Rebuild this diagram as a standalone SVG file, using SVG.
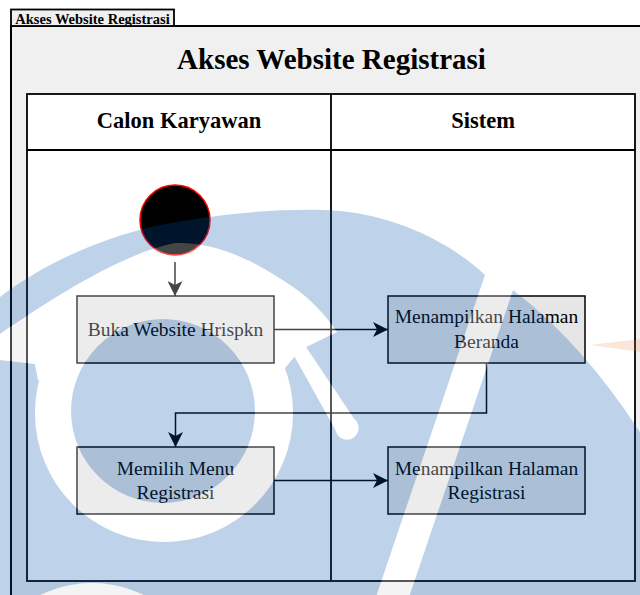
<svg xmlns="http://www.w3.org/2000/svg" width="640" height="595" viewBox="0 0 640 595">
  <style>
    .serif { font-family: "Liberation Serif", "Times New Roman", serif; fill: #000; text-anchor: middle; }
    .lbl { font-size: 19.5px; }
    .hdr { font-size: 22.5px; font-weight: bold; }
    .box { fill: #e6e6e6; stroke: #000; stroke-width: 1.5; }
    .frame { fill: none; stroke: #000; stroke-width: 1.8; }
    .lane { fill: #fff; stroke: #000; stroke-width: 1.8; }
    .edge { fill: none; stroke: #000; stroke-width: 1.5; marker-end: url(#arrow); }
  </style>
  <defs>
    <marker id="arrow" viewBox="0 0 15 15" refX="15" refY="7.5" markerWidth="15" markerHeight="15" markerUnits="userSpaceOnUse" orient="auto">
      <path d="M0,0 L15,7.5 L0,15 L4,7.5 Z" fill="#000"/>
    </marker>
    <!-- logo shapes shared by the two watermark masks -->
    <path id="wm-dome" d="M0,297 C40,266 95,240 155,226 C220,213 290,207 340,211 C400,217 452,244 485,275 L375,600 L0,600 Z"/>
    <path id="wm-wing" d="M513,290 Q585,345 645,440 L645,600 L408,600 Z"/>
    <path id="wm-cap" d="M0,334 C50,300 120,254 175,243 C220,241 262,266 293,287 C312,300 326,316 337,332 L300,350 L285,368 L164,413 L38,380 L35,364 L0,360 Z"/>
    <circle id="wm-ring" cx="164" cy="413" r="129"/>
    <circle id="wm-core" cx="163" cy="411" r="92"/>
    <g id="wm-pin">
      <polygon points="304,344 356.4,422.3 337.6,433.7 292,352"/>
      <circle cx="347" cy="428" r="11.5"/>
    </g>
    <circle id="wm-low" cx="92" cy="700" r="117"/>
    <polygon id="wm-slash" points="485,275 513,290 408,600 375,600"/>
    <mask id="mBlue" maskUnits="userSpaceOnUse" x="0" y="0" width="640" height="595">
      <use href="#wm-dome" fill="#fff"/>
      <use href="#wm-wing" fill="#fff"/>
      <use href="#wm-cap" fill="#000"/>
      <use href="#wm-ring" fill="#000"/>
      <use href="#wm-pin" fill="#000"/>
      <use href="#wm-low" fill="#000"/>
      <use href="#wm-core" fill="#fff"/>
    </mask>
    <mask id="mWhite" maskUnits="userSpaceOnUse" x="0" y="0" width="640" height="595">
      <use href="#wm-cap" fill="#fff"/>
      <use href="#wm-ring" fill="#fff"/>
      <use href="#wm-pin" fill="#fff"/>
      <use href="#wm-low" fill="#fff"/>
      <use href="#wm-slash" fill="#fff"/>
      <use href="#wm-core" fill="#000"/>
    </mask>
  </defs>

  <rect width="640" height="595" fill="#fff"/>

  <!-- pool with its name tab and title -->
  <g id="pool">
    <rect x="11" y="26" width="640" height="600" fill="#f0f0f0" stroke="#000" stroke-width="2"/>
    <rect x="11" y="9.5" width="163" height="16.5" fill="#f0f0f0" stroke="#000" stroke-width="1.8"/>
    <text class="serif" x="92.5" y="24" font-size="14.5" font-weight="bold">Akses Website Registrasi</text>
    <text class="serif" x="331.5" y="69" font-size="29" font-weight="bold">Akses Website Registrasi</text>
  </g>

  <!-- swimlanes -->
  <g id="lanes">
    <rect class="lane" x="27" y="94" width="608" height="487"/>
    <line class="frame" x1="27" y1="150" x2="635" y2="150"/>
    <line class="frame" x1="331" y1="94" x2="331" y2="581"/>
    <text class="serif hdr" x="179" y="128">Calon Karyawan</text>
    <text class="serif hdr" x="483" y="128">Sistem</text>
  </g>

  <g id="start">
    <circle cx="175" cy="220" r="35" fill="#000" stroke="#ff0000" stroke-width="1.5"/>
  </g>

  <g id="buka-website">
    <rect class="box" x="77" y="296" width="197" height="67"/>
    <text class="serif lbl" x="175.5" y="336">Buka Website Hrispkn</text>
  </g>

  <g id="halaman-beranda">
    <rect class="box" x="388" y="296" width="197" height="67"/>
    <text class="serif lbl" x="486.5" y="323">Menampilkan Halaman</text>
    <text class="serif lbl" x="486.5" y="348">Beranda</text>
  </g>

  <g id="pilih-menu">
    <rect class="box" x="77" y="447" width="197" height="67"/>
    <text class="serif lbl" x="175.5" y="474.5">Memilih Menu</text>
    <text class="serif lbl" x="175.5" y="499">Registrasi</text>
  </g>

  <g id="halaman-registrasi">
    <rect class="box" x="388" y="447" width="197" height="67"/>
    <text class="serif lbl" x="486.5" y="474.5">Menampilkan Halaman</text>
    <text class="serif lbl" x="486.5" y="499">Registrasi</text>
  </g>

  <g id="connectors">
    <path class="edge" d="M175,262 V296"/>
    <path class="edge" d="M274,329.5 H388"/>
    <path class="edge" d="M486.5,363 V413 H175.5 V447"/>
    <path class="edge" d="M274,480.5 H388"/>
  </g>

  <!-- translucent logo watermark laid over the page -->
  <g id="watermark">
    <rect width="640" height="595" fill="#0053ab" opacity="0.25" mask="url(#mBlue)"/>
    <rect width="640" height="595" fill="#fff" opacity="0.27" mask="url(#mWhite)"/>
    <polygon points="590,345 640,339 640,352" fill="#f08246" opacity="0.2"/>
  </g>
</svg>
